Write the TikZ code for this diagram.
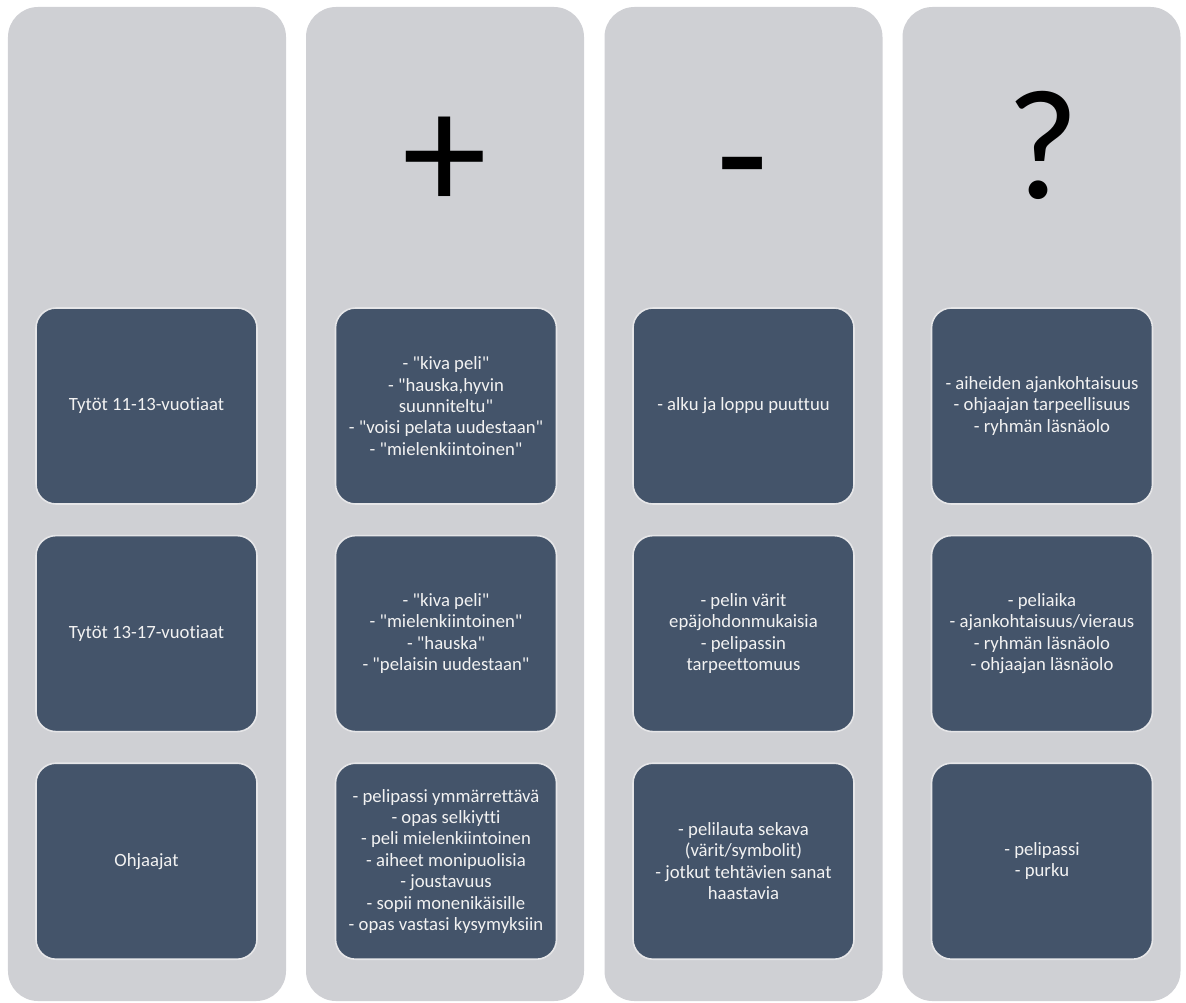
\documentclass[tikz,border=0pt]{standalone}
\usepackage{fontspec}
\setmainfont{Carlito}[Ligatures={TeXOff,CommonOff}]
\usetikzlibrary{positioning}
\definecolor{colgray}{HTML}{CFD0D4}
\definecolor{cellblue}{HTML}{44546A}
\definecolor{cellrim}{HTML}{E6E6E8}
\tikzset{
  colnode/.style={fill=colgray,shape=rectangle,rounded corners=30bp,minimum width=278bp,minimum height=994bp,inner sep=0pt},
  cellnode/.style={fill=cellblue,draw=cellrim,line width=1.6bp,shape=rectangle,rounded corners=20bp,minimum width=221bp,minimum height=196bp,inner sep=0pt,align=center,text=white!95!black,font=\fontsize{18.7bp}{21.4bp}\selectfont},
  signnode/.style={inner sep=0pt,text=black,font=\fontsize{170bp}{170bp}\selectfont}
}
\begin{document}
\begin{tikzpicture}[x=1bp,y=-1bp]
      \useasboundingbox (0,0) rectangle (1186,1003);
      \def\cellsep{30bp}
      % columns
      \node[style=colnode] (col1) at (147, 504) {};
      \node[style=colnode] (col2) at (445, 504) {};
      \node[style=colnode] (col3) at (743.5, 504) {};
      \node[style=colnode] (col4) at (1041.5, 504) {};
      %
      \node[style=signnode] (plus) at (445, 164) {+};
      \node[style=signnode] (minus) at (743, 184) {-};
      \node[style=signnode,font=\fontsize{157bp}{157bp}\selectfont] (quest) at (1043, 145) {?};
      %
      \node[style=cellnode] (a1) at (146.5, 406) {Tytöt 11-13-vuotiaat};
      \node[style=cellnode,below = \cellsep of a1] (a2) {Tytöt 13-17-vuotiaat};
      \node[style=cellnode,below = \cellsep of a2] (a3) {Ohjaajat};
      %
      \node[style=cellnode] (b1) at (446, 406) {- "kiva peli"\\- "hauska,hyvin\\suunniteltu"\\- "voisi pelata uudestaan"\\- "mielenkiintoinen"};
      \node[style=cellnode,below = \cellsep of b1] (b2) {- "kiva peli"\\- "mielenkiintoinen"\\- "hauska"\\- "pelaisin uudestaan"};
      \node[style=cellnode,below = \cellsep of b2] (b3) {- pelipassi ymmärrettävä\\- opas selkiytti\\- peli mielenkiintoinen\\- aiheet monipuolisia\\- joustavuus\\- sopii monenikäisille\\- opas vastasi kysymyksiin};
      %
      \node[style=cellnode] (c1) at (743.5, 406) {- alku ja loppu puuttuu};
      \node[style=cellnode,below = \cellsep of c1] (c2) {- pelin värit\\epäjohdonmukaisia\\- pelipassin\\tarpeettomuus};
      \node[style=cellnode,below = \cellsep of c2] (c3) {- pelilauta sekava\\(värit/symbolit)\\- jotkut tehtävien sanat\\haastavia};
      %
      \node[style=cellnode] (d1) at (1042, 406) {- aiheiden ajankohtaisuus\\- ohjaajan tarpeellisuus\\- ryhmän läsnäolo};
      \node[style=cellnode,below = \cellsep of d1] (d2) {- peliaika\\- ajankohtaisuus/vieraus\\- ryhmän läsnäolo\\- ohjaajan läsnäolo};
      \node[style=cellnode,below = \cellsep of d2] (d3) {- pelipassi\\- purku};
      %
\end{tikzpicture}
\end{document}
